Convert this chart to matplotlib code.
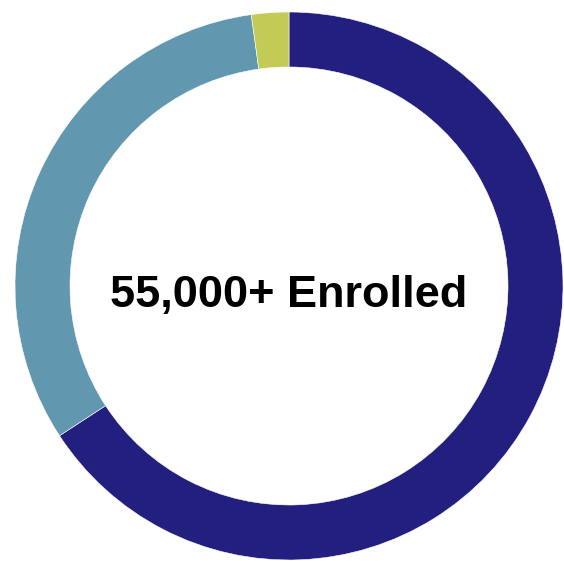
import matplotlib.pyplot as plt

labels = ['Group A', 'Group B', 'Group C']
shares = [65.8, 32.0, 2.2]
colors = ['#221F7F', '#6198B0', '#C3CB55']
center_text = '55,000+ Enrolled'

fig = plt.figure(figsize=(5.64, 5.61), dpi=100)
ax = fig.add_axes([0, 0, 1, 1])
ax.pie(shares, colors=colors, startangle=90, counterclock=False,
       center=(289, 275), radius=274,
       wedgeprops=dict(width=55, edgecolor='white', linewidth=0.4))
ax.text(289, 266, center_text, ha='center', va='center',
        fontsize=32.5, fontweight='bold', family='Liberation Sans')
ax.set_xlim(0, 564)
ax.set_ylim(0, 561)
ax.set_aspect('equal')
ax.axis('off')

fig.savefig('out.png', dpi=100)
